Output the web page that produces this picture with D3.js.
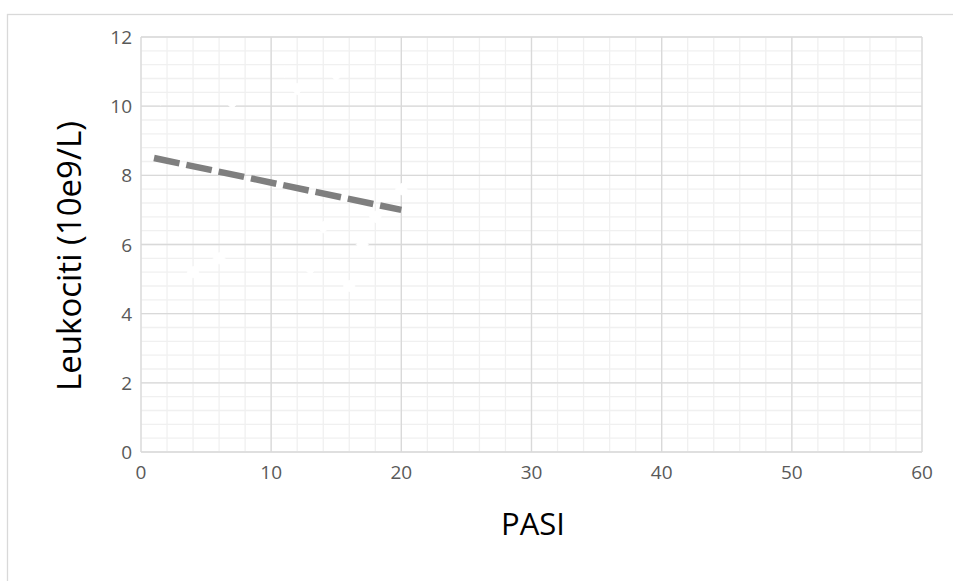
<!DOCTYPE html>
<html>
<head>
<meta charset="utf-8">
<script src="https://cdn.jsdelivr.net/npm/d3@7"></script>
<style>
  html, body { margin: 0; padding: 0; background: #fff; }
  svg { display: block; }
</style>
</head>
<body>
<div id="mydraw"></div>
<script>
// values
var pasi       = [1.5, 7, 11, 12, 15, 20, 3, 5, 14, 18, 17, 6, 4, 13, 16];
var leukociti  = [10.2, 10.1, 11.0, 10.5, 10.9, 7.6, 7.0, 7.0, 6.5, 6.8, 6.0, 5.6, 5.2, 5.3, 4.8];
var trendX     = [1, 20];
var trendY     = [8.5, 7.0];
var xTicks     = [0, 10, 20, 30, 40, 50, 60];
var yTicks     = [0, 2, 4, 6, 8, 10, 12];

var width = 953, height = 581;

var svg = d3.select("div#mydraw").append("svg")
    .attr("width", width)
    .attr("height", height);

// chart area frame (runs off the right and bottom)
svg.append("rect")
    .attr("x", 7.5).attr("y", 14.5)
    .attr("width", 1000).attr("height", 700)
    .attr("fill", "#fff")
    .attr("stroke", "#d9d9d9")
    .attr("stroke-width", 1.3);

var x = d3.scaleLinear().domain([0, 60]).range([141, 922]);
var y = d3.scaleLinear().domain([0, 12]).range([452, 37]);

var g = svg.append("g");

// minor grid
var xMinor = d3.range(0, 60.001, 2);
var yMinor = d3.range(0, 12.001, 0.4);

g.selectAll("line.xmin").data(xMinor).enter().append("line")
    .attr("x1", function(d) { return x(d); })
    .attr("x2", function(d) { return x(d); })
    .attr("y1", y(0)).attr("y2", y(12))
    .attr("stroke", "#f0f0f0").attr("stroke-width", 1.3);

g.selectAll("line.ymin").data(yMinor).enter().append("line")
    .attr("y1", function(d) { return y(d); })
    .attr("y2", function(d) { return y(d); })
    .attr("x1", x(0)).attr("x2", x(60))
    .attr("stroke", "#f0f0f0").attr("stroke-width", 1.3);

// major grid
g.selectAll("line.xmaj").data(xTicks).enter().append("line")
    .attr("x1", function(d) { return x(d); })
    .attr("x2", function(d) { return x(d); })
    .attr("y1", y(0)).attr("y2", y(12))
    .attr("stroke", "#d9d9d9").attr("stroke-width", 1.3);

g.selectAll("line.ymaj").data(yTicks).enter().append("line")
    .attr("y1", function(d) { return y(d); })
    .attr("y2", function(d) { return y(d); })
    .attr("x1", x(0)).attr("x2", x(60))
    .attr("stroke", "#d9d9d9").attr("stroke-width", 1.3);

// tick labels
g.selectAll("text.xt").data(xTicks).enter().append("text")
    .attr("x", function(d) { return x(d); })
    .attr("y", 479)
    .attr("text-anchor", "middle")
    .attr("font-family", "Open Sans")
    .attr("font-size", 19)
    .attr("fill", "#595959")
    .text(function(d) { return d; });

g.selectAll("text.yt").data(yTicks).enter().append("text")
    .attr("x", 132)
    .attr("y", function(d) { return y(d) + 7; })
    .attr("text-anchor", "end")
    .attr("font-family", "Open Sans")
    .attr("font-size", 19)
    .attr("fill", "#595959")
    .text(function(d) { return d; });

// axis titles
svg.append("text")
    .attr("x", 533).attr("y", 535)
    .attr("text-anchor", "middle")
    .attr("font-family", "Open Sans")
    .attr("font-size", 31)
    .attr("fill", "#000")
    .text("PASI");

svg.append("text")
    .attr("transform", "translate(81,256) rotate(-90)")
    .attr("text-anchor", "middle")
    .attr("font-family", "Open Sans")
    .attr("font-size", 33)
    .attr("fill", "#000")
    .text("Leukociti (10e9/L)");

// points: white diamonds
var pts = pasi.map(function(d, i) { return [d, leukociti[i]]; });
var r = 6;
g.selectAll("path.pt").data(pts).enter().append("path")
    .attr("d", function(d) {
        var cx = x(d[0]), cy = y(d[1]);
        return "M" + cx + "," + (cy - r) + "L" + (cx + r) + "," + cy +
               "L" + cx + "," + (cy + r) + "L" + (cx - r) + "," + cy + "Z";
    })
    .attr("fill", "#fff")
    .attr("stroke", "#fff")
    .attr("stroke-width", 1);

// linear trend line
var line = d3.line()
    .x(function(d) { return x(d[0]); })
    .y(function(d) { return y(d[1]); });

g.append("path")
    .datum(trendX.map(function(d, i) { return [d, trendY[i]]; }))
    .attr("d", line)
    .attr("fill", "none")
    .attr("stroke", "#7f7f7f")
    .attr("stroke-width", 6.5)
    .attr("stroke-dasharray", "26,7");
</script>
</body>
</html>
